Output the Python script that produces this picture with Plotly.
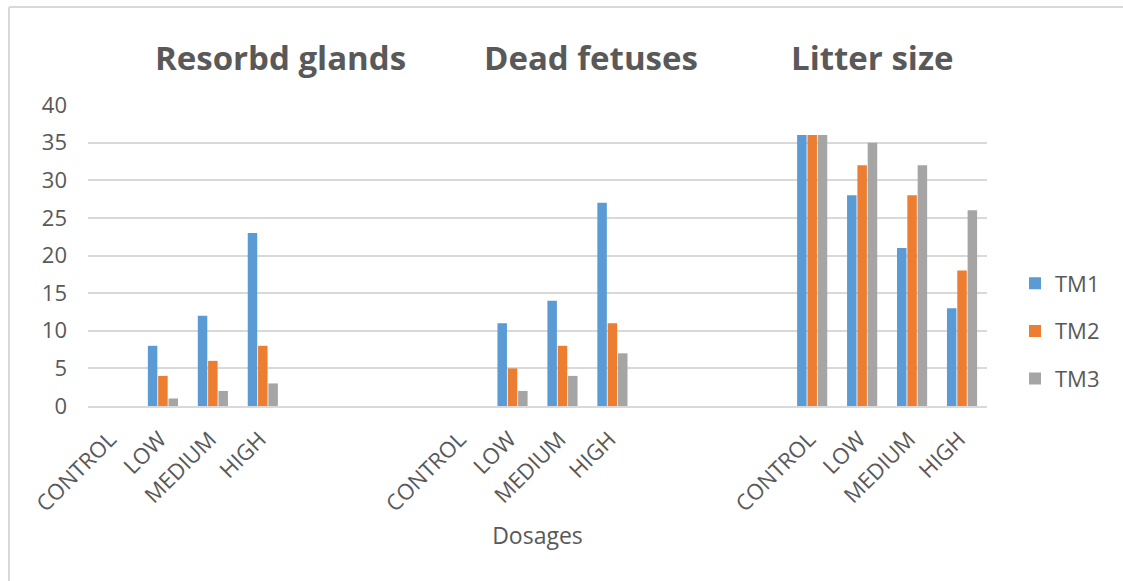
import plotly.graph_objects as go

# Dosage levels and the three measured outcomes
dosages = ["CONTROL", "LOW", "MEDIUM", "HIGH"]
panels = ["Resorbd glands", "Dead fetuses", "Litter size"]
series_names = ["TM1", "TM2", "TM3"]
series_colors = ["#5B9BD5", "#ED7D31", "#A5A5A5"]

# Resorbed glands per dosage
resorbd_tm1 = [0, 8, 12, 23]
resorbd_tm2 = [0, 4, 6, 8]
resorbd_tm3 = [0, 1, 2, 3]

# Dead fetuses per dosage
dead_tm1 = [0, 11, 14, 27]
dead_tm2 = [0, 5, 8, 11]
dead_tm3 = [0, 2, 4, 7]

# Litter size per dosage
litter_tm1 = [36, 28, 21, 13]
litter_tm2 = [36, 32, 28, 18]
litter_tm3 = [36, 35, 32, 26]

panel_values = [
    [resorbd_tm1, resorbd_tm2, resorbd_tm3],
    [dead_tm1, dead_tm2, dead_tm3],
    [litter_tm1, litter_tm2, litter_tm3],
]

# Category slots: each panel's four dosages, separated by three empty slots
n_spacers = 3
categories, tick_keys, tick_text = [], [], []
for p, panel in enumerate(panels):
    for d in dosages:
        key = f"{panel}|{d}"
        categories.append(key)
        tick_keys.append(key)
        tick_text.append(d)
    if p < len(panels) - 1:
        categories += [f"gap{p}-{k}" for k in range(n_spacers)]

TEXT = "#595959"
GRID = "#D9D9D9"
FONT = "Open Sans"

fig = go.Figure()
for s, (name, color) in enumerate(zip(series_names, series_colors)):
    lookup = {}
    for p, panel in enumerate(panels):
        for d, v in zip(dosages, panel_values[p][s]):
            lookup[f"{panel}|{d}"] = v
    ys = [lookup.get(c) for c in categories]
    fig.add_trace(go.Bar(
        x=categories, y=ys, name=name, legendgroup=name,
        marker=dict(color=color, line=dict(width=0)),
    ))

W, H = 1123, 581
L, R, T, B = 88, 136, 105, 175
pw, ph = W - L - R, H - T - B

def px(x):
    return (x - L) / pw

def py(y):
    return (H - B - y) / ph

# Panel headings above each group
heading_x = [280, 591, 872]
annotations = [
    dict(text=f"<b>{t}</b>", x=px(x), y=py(57), xref="paper", yref="paper",
         showarrow=False, xanchor="center", yanchor="middle",
         font=dict(family=FONT, size=33, color=TEXT))
    for t, x in zip(panels, heading_x)
]

# Chart frame (top and left edges)
shapes = [
    dict(type="line", xref="paper", yref="paper", x0=px(9), x1=px(W), y0=py(7), y1=py(7),
         line=dict(color=GRID, width=2)),
    dict(type="line", xref="paper", yref="paper", x0=px(9), x1=px(9), y0=py(7), y1=py(H),
         line=dict(color=GRID, width=2)),
]

fig.update_layout(
    width=W, height=H,
    margin=dict(l=L, r=R, t=T, b=B, autoexpand=False),
    paper_bgcolor="white", plot_bgcolor="white",
    font=dict(family=FONT, color=TEXT, size=22),
    barmode="group", bargap=0.38, bargroupgap=0.08,
    showlegend=True,
    legend=dict(x=px(1015), y=py(331), xanchor="left", yanchor="middle",
                font=dict(size=22, color=TEXT), tracegroupgap=16,
                traceorder="grouped", bgcolor="rgba(0,0,0,0)"),
    annotations=annotations,
    shapes=shapes,
)

fig.update_xaxes(
    type="category", categoryorder="array", categoryarray=categories,
    range=[-0.5, len(categories) - 0.5],
    tickmode="array", tickvals=tick_keys, ticktext=tick_text,
    tickangle=-45, tickfont=dict(size=22, color=TEXT),
    ticklabelstandoff=10, ticklabelshift=-3,
    showgrid=False, showline=True, linecolor=GRID, linewidth=1.5,
    ticks="", automargin=False,
    title=dict(text="Dosages", font=dict(size=23, color=TEXT), standoff=12),
)

fig.update_yaxes(
    range=[0, 40], dtick=5, tick0=0,
    showgrid=True, gridcolor=GRID, gridwidth=1.5,
    zeroline=False, showline=False, ticks="",
    ticklabelstandoff=20,
    tickfont=dict(size=22, color=TEXT), automargin=False,
)

fig.write_html("out.html")
